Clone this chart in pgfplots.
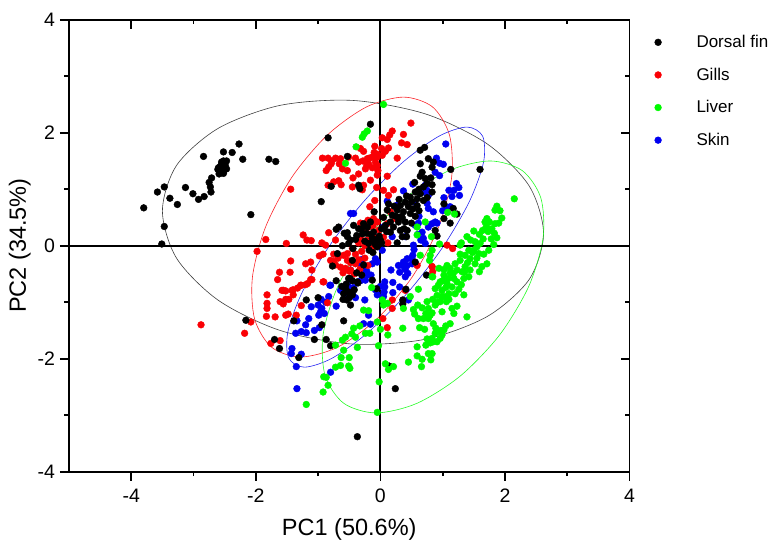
\documentclass[border=0pt]{standalone}
\usepackage{pgfplots}
\pgfplotsset{compat=1.18}
\usepackage{fontspec}
\setmainfont{Liberation Sans}

\definecolor{pcgreen}{RGB}{0,250,0}
\definecolor{pcred}{RGB}{250,0,5}
\definecolor{pcblue}{RGB}{0,0,240}

\pgfplotsset{
    pcaframe/.style={
        scale only axis,
        width=560.5pt, height=452pt,
        xmin=-5, xmax=4, ymin=-4, ymax=4,
        axis line style={line width=1.9pt, black},
        tick style={line width=1.7pt, black},
        /pgf/number format/assume math mode=true,
    },
    dots/.style={only marks, mark=*, mark size=3.4pt, mark options={draw=none}},
    rim/.style={smooth cycle, line width=0.6pt, mark=none, forget plot},
}
\newcommand{\gap}{\hspace*{33pt}}

\begin{document}
\begin{tikzpicture}
\path[use as bounding box] (-69pt,-77.3pt) rectangle (704pt,471.7pt);

% top and right ticks point inward
\begin{axis}[pcaframe,
    xtick={-4,-2,0,2,4}, ytick={-4,-2,0,2,4},
    minor xtick={-3,-1,1,3}, minor ytick={-3,-1,1,3},
    xtick pos=top, ytick pos=right,
    tick align=inside,
    xticklabels={}, yticklabels={},
    major tick length=9pt, minor tick length=4.5pt,
    axis on top,
]
\end{axis}

\begin{axis}[pcaframe,
    font=\fontsize{19.5}{22}\selectfont,
    xtick={-4,-2,0,2,4}, ytick={-4,-2,0,2,4},
    minor xtick={-3,-1,1,3}, minor ytick={-3,-1,1,3},
    xtick pos=bottom, ytick pos=left,
    tick align=outside,
    major tick length=9pt, minor tick length=4.5pt,
    xticklabel style={yshift=-5pt},
    yticklabel style={xshift=-1.5pt},
    xlabel={PC1 (50.6\%)}, ylabel={PC2 (34.5\%)},
    label style={font=\fontsize{23.5}{26}\selectfont},
    xlabel style={yshift=-9pt},
    legend style={at={(1,1)}, anchor=north west, draw=none, fill=none,
        xshift=22pt, yshift=-11.5pt,
        font=\fontsize{17}{19}\selectfont, row sep=14.8pt},
    legend cell align=left,
]
\addlegendimage{dots, black}
\addlegendimage{dots, pcred}
\addlegendimage{dots, pcgreen}
\addlegendimage{dots, pcblue}
\legend{\gap Dorsal fin, \gap Gills, \gap Liver, \gap Skin}

% Skin
\addplot[dots, pcblue, forget plot] coordinates {
(1.05,1.80) (0.95,1.46) (1.01,1.44) (0.95,1.24) (1.26,1.03) (1.27,0.89) (1.18,0.98) (1.10,0.98)
(1.15,0.87) (1.02,0.85) (1.12,0.69) (1.07,0.67) (0.77,0.66) (0.72,1.07) (0.75,0.98) (0.77,0.89)
(0.52,1.09) (0.37,0.97) (0.55,0.77) (0.91,0.40) (0.83,0.39) (0.77,0.33) (0.61,0.40) (0.56,0.36)
(0.67,0.24) (0.69,0.13) (0.72,0.04) (0.53,0.01) (0.54,-0.07) (0.27,0.72) (0.11,0.79) (-0.43,0.57)
(-0.48,0.57) (0.05,0.33) (0.19,0.16) (0.40,0.16) (0.03,-0.08) (0.52,-0.17) (0.43,-0.23) (0.37,-0.29)
(0.51,-0.32) (0.29,-0.35) (0.43,-0.35) (0.17,-0.43) (0.31,-0.47) (0.44,-0.49) (0.40,-0.55) (-0.08,-0.23)
(-0.13,-0.32) (-0.05,-0.29) (-0.29,-0.24) (-0.24,-0.37) (-0.29,-0.46) (-0.21,-0.52) (-0.24,-0.61) (-0.48,-0.43)
(-0.81,-0.70) (0.07,-0.64) (0.07,-0.73) (0.20,-0.65) (0.31,-0.73) (-0.51,-0.73) (-0.64,-0.79) (-0.43,-0.74)
(-0.45,-0.85) (-0.80,-0.70) (0.20,-0.83) (0.06,-0.82) (-0.05,-0.87) (0.05,-0.90) (0.45,-0.96) (-0.25,-0.96)
(-1.11,-1.08) (-0.83,-0.90) (-0.88,-1.00) (-0.71,-1.07) (-0.94,-1.11) (-0.96,-1.17) (-0.99,-1.23) (-1.15,-1.29)
(-1.20,-1.40) (-1.34,-1.33) (-1.36,-1.55) (-1.27,-1.52) (-1.19,-1.54) (-1.06,-1.50) (-0.98,-1.45) (-0.19,-1.23)
(-0.27,-1.38) (-0.16,-1.39) (-1.42,-1.82) (-1.43,-1.91) (-1.27,-1.92) (-1.35,-2.14) (-0.80,-2.24) (-1.34,-2.53)
(0.50,-0.22) (0.35,-0.35) (0.40,-0.42) (-0.22,-0.45) (-0.32,-0.32) (-0.15,-0.52) (0.62,0.52) (0.70,0.95)
(0.85,0.60) (0.88,0.42) (1.00,0.62) (0.60,0.20) (0.65,0.10) (-0.48,-0.62) (-0.55,-0.85) (-0.40,-0.92)
(-0.32,-0.62) (-0.08,-0.78) (0.00,-0.72) (-0.95,-0.95) (-0.90,-1.20) (-1.00,-1.05) (1.22,1.10) (0.75,0.75)
(0.90,1.55) (0.88,1.30)
};
% Gills
\addplot[dots, pcred, forget plot] coordinates {
(0.49,2.17) (0.19,2.03) (0.15,1.96) (0.11,1.88) (0.03,1.91) (0.37,1.97) (0.34,1.82) (0.43,1.79)
(-0.09,1.76) (0.13,1.73) (0.08,1.67) (0.03,1.60) (-0.32,1.72) (-0.27,1.67) (0.27,1.55) (-0.05,1.57)
(-0.13,1.57) (-0.21,1.54) (-0.08,1.48) (-0.19,1.45) (-0.35,1.48) (-0.13,1.38) (-0.24,1.36) (-0.04,1.33)
(-0.05,1.25) (-0.93,1.55) (-0.84,1.55) (-0.72,1.55) (-0.64,1.54) (-0.51,1.57) (-0.79,1.45) (-0.83,1.39)
(-0.87,1.33) (-0.61,1.36) (-0.53,1.33) (-0.35,1.27) (-0.44,1.20) (-0.84,1.07) (-0.75,1.13) (-0.67,1.15)
(-0.63,1.08) (-0.45,1.04) (-0.27,1.07) (-0.16,1.16) (-0.29,0.99) (-0.06,1.03) (0.11,1.23) (0.05,0.98)
(0.21,0.99) (0.13,0.89) (-0.09,0.80) (-0.17,0.69) (-1.44,1.00)
(-1.84,0.11) (-1.98,-0.10) (-1.51,0.04) (-1.24,0.19) (-1.18,0.10) (-1.11,0.09) (-0.83,0.23) (-0.94,0.05)
(-0.88,0.01) (-0.72,0.10) (-0.92,-0.15) (-1.44,-0.27) (-1.20,-0.32) (-1.12,-0.29) (-1.10,-0.43) (-1.62,-0.47)
(-1.45,-0.47) (-1.65,-0.60) (-1.12,-0.60) (-1.20,-0.69) (-1.28,-0.70) (-0.92,-0.64) (-1.56,-0.79) (-1.40,-0.78)
(-0.80,-0.26) (-0.72,-0.34) (-0.59,-0.17) (-0.53,-0.26) (-0.64,-0.38) (-0.56,-0.40) (-0.48,-0.43) (-0.40,-0.32)
(-0.53,-0.14)
(-0.11,0.48) (-0.05,0.42) (-0.19,0.33) (-0.27,0.24) (-0.32,0.13) (-0.11,0.16) (-0.21,0.10) (-0.03,0.04)
(-0.13,-0.05) (0.16,0.60) (0.24,0.48) (0.11,0.39) (1.07,0.01) (1.16,-0.05) (0.83,-0.37) (0.84,-0.46) (0.59,-0.35)
(-1.82,-0.87) (-1.82,-1.02) (-1.82,-1.11) (-1.83,-1.25) (-1.69,-1.26) (-1.58,-0.79) (-1.52,-0.80) (-1.42,-0.79)
(-1.40,-0.87) (-1.47,-0.95) (-1.61,-0.99) (-1.56,-1.03) (-1.52,-1.23) (-1.48,-1.21) (-1.35,-1.23) (-1.27,-1.06)
(-1.17,-0.67) (-1.10,-0.60) (-1.27,-0.70) (-0.91,-0.64) (-0.85,-1.01) (-2.08,-1.35) (-2.18,-1.55) (-1.76,-1.73)
(-1.61,-1.68) (0.11,-1.45) (0.04,-1.29) (0.19,-1.11) (0.19,-0.96) (0.40,-0.79) (0.83,-0.37) (-2.88,-1.40)
(-0.35,0.05) (-0.30,-0.10) (-0.25,0.00) (-0.40,-0.15) (-0.45,-0.05) (-0.35,-0.25) (-0.25,-0.22) (-0.20,-0.35)
(-0.50,-0.45) (-0.42,-0.50) (-0.33,-0.42) (-0.60,-0.48) (-0.68,-0.22) (-0.75,-0.15) (-0.12,0.35) (-0.02,0.28)
(0.05,0.15) (0.12,0.05) (-0.20,0.45) (-0.32,0.40) (-0.05,1.42) (-0.18,1.55) (-0.22,1.42) (-0.10,1.65)
(0.02,1.72) (-0.28,1.50) (-0.05,1.62) (-0.40,1.55) (-1.33,-0.75) (-1.52,-0.95) (-0.78,1.50) (-0.66,1.45)
(-0.75,-0.28) (-0.98,-0.18) (-0.48,-0.30)
};
% Dorsal fin
\addplot[dots, black, forget plot] coordinates {
(-3.80,0.67) (-3.58,0.95) (-3.47,1.04) (-3.38,0.84) (-3.26,0.73) (-3.13,1.03) (-3.01,0.92) (-2.92,0.82)
(-2.83,0.87) (-2.72,0.95) (-2.73,1.04) (-2.75,1.12) (-2.71,1.20) (-2.59,1.27) (-2.56,1.30) (-2.61,1.35)
(-2.51,1.33) (-2.47,1.36) (-2.57,1.40) (-2.51,1.44) (-2.55,1.48) (-2.47,1.50) (-2.52,1.50) (-2.84,1.58)
(-2.52,1.66) (-2.38,1.65) (-2.27,1.80) (-2.21,1.53) (-1.79,1.53) (-1.68,1.49) (-2.08,0.55) (-3.47,0.34)
(-3.51,0.03) (-0.84,1.91) (-0.95,0.78) (-0.79,1.05) (-0.53,1.58) (-0.16,2.15) (-0.35,1.07) (-0.33,1.01)
(1.13,1.35) (1.60,1.35) (0.64,1.69) (0.71,1.74) (0.77,1.54) (0.64,1.45) (0.85,1.48) (0.83,1.39)
(0.67,1.30) (0.64,1.23) (0.72,1.19) (0.81,1.20) (0.83,1.08) (0.69,1.04) (0.83,0.95) (0.64,0.92)
(0.56,0.95) (0.48,0.86) (0.59,0.83) (0.40,0.77) (0.32,0.71) (0.45,0.69) (0.59,0.71) (0.69,0.80)
(0.27,0.63) (0.37,0.60) (0.48,0.57) (0.56,0.52) (0.13,0.74) (0.11,0.63) (0.19,0.54) (0.32,0.51)
(0.40,0.42) (0.29,0.42) (0.16,0.42) (0.08,0.36) (0.21,0.33) (0.16,0.24) (0.32,0.27) (0.43,0.27)
(0.35,0.16) (0.42,0.16) (0.27,0.05) (1.02,0.74) (1.17,0.66) (1.23,0.56) (1.02,0.48) (1.12,0.40)
(0.88,0.27) (0.91,0.17)
(-0.10,0.60) (-0.16,0.42) (-0.27,0.39) (-0.21,0.33) (-0.43,0.36) (-0.35,0.30) (-0.67,0.33) (-0.71,0.29)
(-0.53,0.23) (-0.53,0.16) (-0.40,0.11) (-0.29,0.21) (-0.11,0.24) (-0.13,0.13) (-0.19,0.04) (-0.11,0.07)
(-0.05,-0.02) (0.00,0.10) (-0.61,0.00) (-0.51,0.04) (-0.44,-0.05) (-0.69,-0.14) (-0.45,-0.26) (-0.49,-0.58)
(-0.37,-0.64) (-0.27,-0.34) (-0.77,-0.36) (-0.71,-0.62) (-0.13,-0.61) (-0.06,-0.76) (0.41,-0.77) (0.74,-0.52)
(0.56,-0.29) (-0.36,-0.66) (-0.51,-0.58) (-0.56,-0.76) (-0.51,-0.82) (-0.59,-0.85) (-0.54,-0.96) (-0.48,-1.05)
(-0.45,-0.87) (-1.00,-0.92) (-1.19,-0.96) (-1.39,-1.33) (-0.94,-1.40) (-0.59,-1.33) (-2.16,-1.32) (-1.70,-1.66)
(-1.62,-1.82) (-1.31,-1.98) (-1.06,-1.66) (-0.87,-1.66) (-0.80,-1.77) (-0.37,-3.38) (0.24,-2.53) (0.14,-2.13)
(0.36,-0.96) (0.36,-1.03)
(0.55,1.12) (0.75,1.10) (0.62,1.00) (0.75,0.85) (0.50,0.78) (0.62,0.62) (0.42,0.88) (0.52,0.65)
(0.35,0.50) (0.25,0.52) (0.38,0.30) (0.50,0.40) (0.22,0.70) (0.30,0.82) (0.05,0.50) (0.10,0.25)
(0.02,0.30) (-0.02,0.17) (0.02,0.05) (-0.08,0.02) (-0.15,0.20) (-0.22,0.22) (-0.30,0.30) (-0.38,0.18)
(-0.25,0.08) (-0.05,0.12) (-0.18,-0.08) (-0.12,-0.12) (-0.58,0.22) (-0.48,0.10) (-0.38,-0.48) (-0.30,-0.52)
(-0.45,-0.62) (-0.55,-0.68) (-0.42,-0.78) (-0.50,-0.92) (-0.60,-0.95) (-0.62,-0.72)
(-2.54,1.35) (-2.56,1.42) (-2.50,1.38) (-2.58,1.32) (-2.53,1.46) (-2.49,1.42) (-2.60,1.38) (-2.52,1.28)
};
% Liver
\addplot[dots, pcgreen, forget plot] coordinates {
(2.15,0.83) (1.87,0.70) (1.84,0.63) (1.95,0.49) (1.71,0.48) (1.68,0.42) (1.70,0.34) (1.84,0.39)
(1.79,0.30) (1.83,0.22) (1.87,0.14) (1.50,0.26) (1.59,0.20) (1.39,0.16) (1.52,0.07) (1.60,0.04)
(1.82,0.02) (1.74,-0.08) (1.50,-0.08) (1.58,-0.14) (1.28,0.01) (1.36,-0.17) (1.44,-0.23) (1.52,-0.32)
(1.71,-0.32) (1.63,-0.37) (1.28,-0.26) (1.20,-0.32) (1.07,-0.35) (1.12,-0.40) (1.36,-0.37) (1.23,-0.43)
(1.44,-0.43) (1.31,-0.46) (1.59,-0.46) (1.42,-0.55) (1.34,-0.58) (0.94,-0.40) (0.83,-0.55) (0.95,0.03)
(0.83,-0.08) (0.80,-0.17) (0.79,-0.26) (0.59,0.33) (0.72,0.42) (0.59,0.19) (0.82,0.16) (1.08,0.59)
(1.19,0.56) (0.64,-0.17) (0.05,2.50) (-0.21,2.03) (-0.26,1.98) (-0.29,1.92) (-0.39,1.75) (-0.56,1.46)
(0.84,-0.55) (1.02,-0.52) (1.09,-0.58) (1.17,-0.49) (0.96,-0.64) (1.07,-0.67) (1.23,-0.64) (0.88,-0.76)
(0.99,-0.79) (1.15,-0.73) (1.26,-0.77) (0.91,-0.88) (1.02,-0.90) (1.10,-0.85) (1.34,-0.87) (0.96,-0.99)
(1.06,-0.99) (0.88,-1.05) (1.23,-1.07) (1.15,-1.11) (0.99,-1.17) (1.18,-1.20) (1.39,-1.26) (0.75,-0.99)
(0.77,-1.11) (0.67,-1.10) (0.53,-1.13) (0.55,-1.21) (0.80,-1.23) (0.61,-1.29) (0.69,-1.29) (0.77,-1.29)
(1.12,-1.38) (1.05,-1.42) (1.02,-1.49) (0.89,-1.46) (0.88,-1.55) (0.99,-1.58) (0.83,-1.64) (0.91,-1.70)
(0.96,-1.64) (0.75,-1.65) (0.63,-1.45) (0.71,-1.48) (0.36,-1.46) (0.12,-1.58) (0.00,-1.48) (-0.05,-1.35)
(0.59,-1.79) (0.73,-1.76) (0.77,-1.91) (0.83,-1.91) (0.81,-2.02) (0.59,-1.95) (0.67,-2.01) (0.45,-2.06)
(0.66,-2.14) (0.21,-2.14) (0.08,-2.09) (0.13,-2.19) (-0.02,-2.41) (-0.05,-2.95) (-1.19,-2.81) (-0.92,-2.59)
(-0.84,-2.47) (-0.91,-2.32) (-0.87,-2.33) (-0.72,-2.15) (-0.64,-2.12) (-0.51,-2.13) (-0.49,-2.17) (-0.63,-1.98)
(-0.50,-1.98) (-0.59,-1.85) (-0.37,-1.80) (-0.03,-1.77) (-0.72,-1.76) (-0.61,-1.67) (-0.56,-1.62) (-0.46,-1.56)
(-0.40,-1.62) (-0.43,-1.46) (-0.33,-1.42) (-0.24,-1.55) (-0.17,-1.55) (-0.27,-1.14) (-0.19,-1.15) (-0.14,-0.74)
(0.05,-1.05) (0.11,-1.02) (0.03,-0.96) (0.37,-1.11) (0.61,-0.77) (0.48,-0.90)
(1.30,0.05) (1.45,0.10) (1.55,-0.02) (1.65,0.12) (1.42,-0.08) (1.55,-0.22) (1.66,-0.15) (1.40,-0.30)
(1.48,-0.12) (1.28,-0.15) (1.35,-0.47) (1.12,-0.48) (1.02,-0.42) (1.18,-0.58) (1.30,-0.69) (1.00,-0.62)
(0.93,-0.70) (1.05,-0.74) (1.20,-0.85) (0.92,-1.00) (0.98,-0.90) (1.10,-0.95) (0.84,-0.95) (1.64,0.27)
(1.75,0.42) (1.92,0.62) (1.90,0.40) (1.78,0.12) (1.73,0.25) (0.83,-1.19) (0.73,-1.20) (0.60,-1.05)
(0.92,-1.52) (0.85,-1.70) (0.97,-1.50) (0.80,-1.72) (0.85,-1.38)
};

% confidence ellipses
\addplot[rim, black!75] coordinates {
(2.62,0.215) (2.39,1.056) (1.72,1.798) (0.73,2.33) (-0.44,2.571) (-1.61,2.484) (-2.60,2.08) (-3.27,1.426)
(-3.50,0.615) (-3.27,-0.226) (-2.60,-0.968) (-1.61,-1.50) (-0.44,-1.741) (0.73,-1.654) (1.72,-1.25) (2.39,-0.596)
};
\addplot[rim, pcred!85] coordinates {
(0.934,0.33) (1.144,1.211) (1.11,1.956) (0.839,2.455) (0.37,2.63) (-0.225,2.455) (-0.854,1.956) (-1.422,1.211)
(-1.844,0.33) (-2.054,-0.551) (-2.02,-1.296) (-1.749,-1.795) (-1.28,-1.97) (-0.685,-1.795) (-0.056,-1.296) (0.512,-0.551)
};
\addplot[rim, pcblue!85] coordinates {
(1.002,-0.025) (1.432,0.789) (1.656,1.477) (1.642,1.938) (1.39,2.10) (0.94,1.938) (0.36,1.477) (-0.262,0.789)
(-0.832,-0.025) (-1.262,-0.839) (-1.486,-1.527) (-1.472,-1.988) (-1.22,-2.15) (-0.77,-1.988) (-0.19,-1.527) (0.432,-0.839)
};
\addplot[rim, pcgreen!85] coordinates {
(2.378,-0.73) (2.611,0.124) (2.576,0.847) (2.277,1.33) (1.76,1.50) (1.103,1.33) (0.408,0.847) (-0.221,0.124)
(-0.688,-0.73) (-0.921,-1.584) (-0.886,-2.307) (-0.587,-2.79) (-0.07,-2.96) (0.587,-2.79) (1.282,-2.307) (1.911,-1.584)
};

% zero lines
\addplot[black, line width=1.9pt, forget plot] coordinates {(-5,0) (4,0)};
\addplot[black, line width=1.9pt, forget plot] coordinates {(0,-4) (0,4)};
\end{axis}
\end{tikzpicture}
\end{document}
